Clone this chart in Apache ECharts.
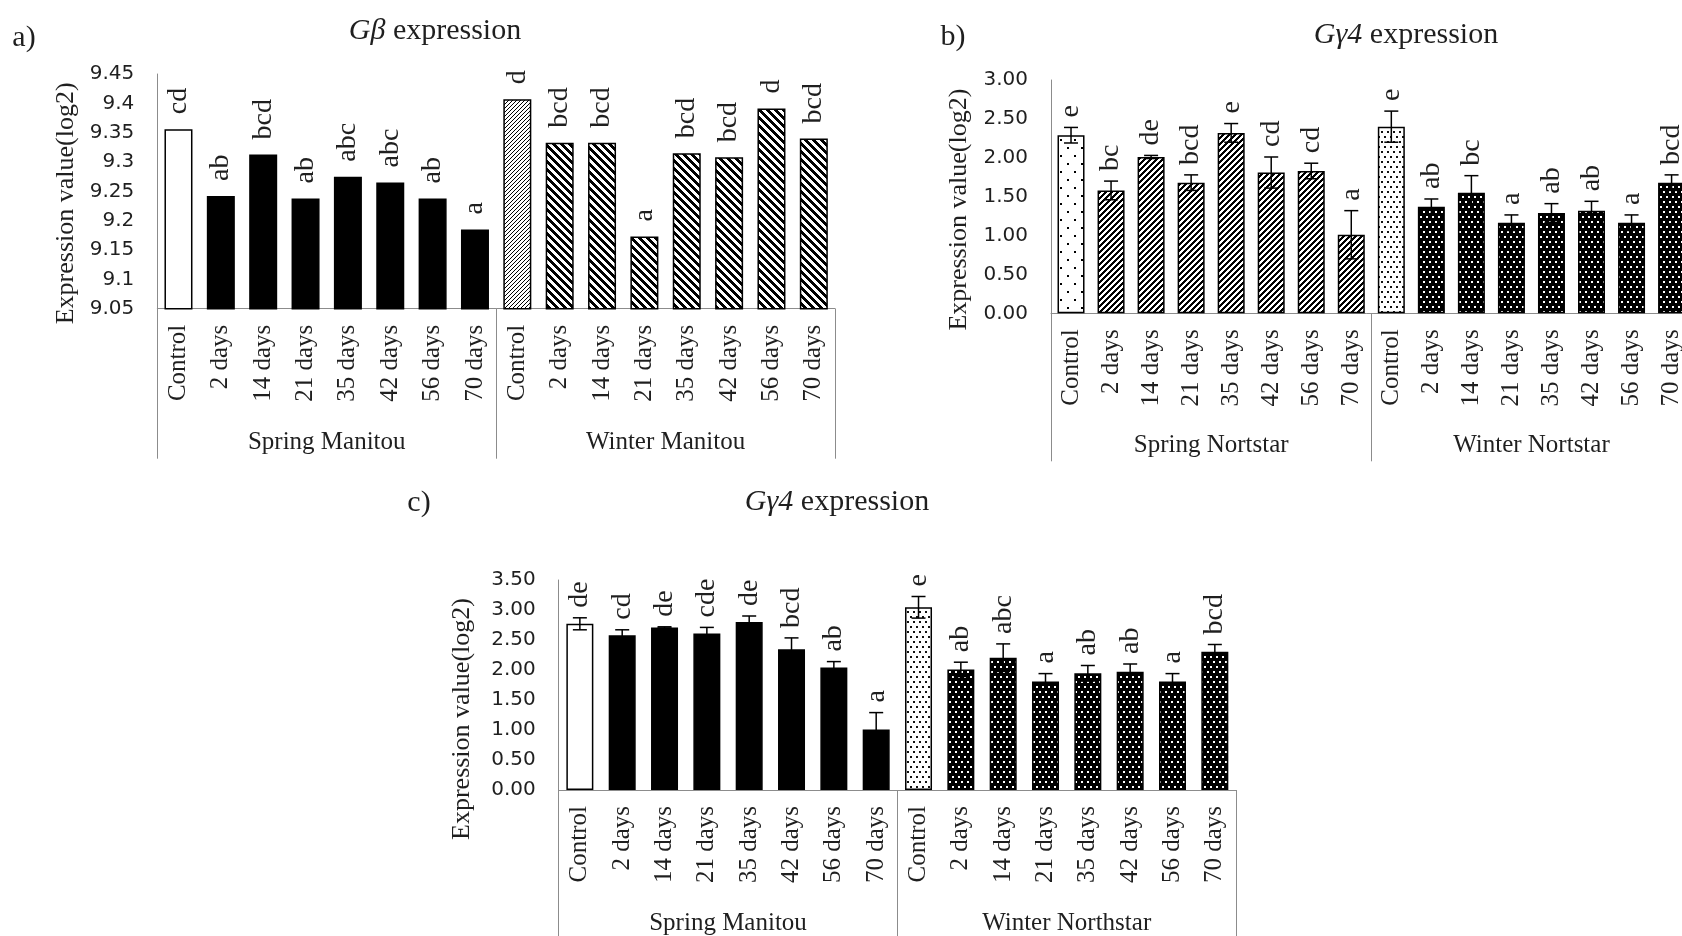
<!DOCTYPE html>
<html>
<head>
<meta charset="utf-8">
<script src="https://cdn.jsdelivr.net/npm/echarts@6/dist/echarts.min.js"></script>
<style>
html,body{margin:0;padding:0;background:#fff;}
#chart{width:1682px;height:936px;}
</style>
</head>
<body>
<div id="chart"></div>
<script>
// Sampling times shared by every panel
const days = ['Control', '2 days', '14 days', '21 days', '35 days', '42 days', '56 days', '70 days'];

// a) Gβ expression (Manitou)
const aGroups = ['Spring Manitou', 'Winter Manitou'];
const aSpring = [9.356, 9.242, 9.313, 9.238, 9.275, 9.265, 9.238, 9.185];
const aWinter = [9.407, 9.333, 9.333, 9.173, 9.315, 9.308, 9.391, 9.340];
const aSpringErr = [0, 0, 0, 0, 0, 0, 0, 0];
const aWinterErr = [0, 0, 0, 0, 0, 0, 0, 0];
const aSpringSig = ['cd', 'ab', 'bcd', 'ab', 'abc', 'abc', 'ab', 'a'];
const aWinterSig = ['d', 'bcd', 'bcd', 'a', 'bcd', 'bcd', 'd', 'bcd'];
const aTicks = {min: 9.05, max: 9.45, interval: 0.05};

// b) Gγ4 expression (Nortstar)
const bGroups = ['Spring Nortstar', 'Winter Nortstar'];
const bSpring = [2.29, 1.58, 2.01, 1.68, 2.32, 1.81, 1.83, 1.01];
const bWinter = [2.40, 1.37, 1.55, 1.165, 1.29, 1.32, 1.165, 1.68];
const bSpringErr = [0.10, 0.12, 0.02, 0.10, 0.12, 0.20, 0.10, 0.31];
const bWinterErr = [0.20, 0.10, 0.22, 0.10, 0.12, 0.12, 0.10, 0.10];
const bSpringSig = ['e', 'bc', 'de', 'bcd', 'e', 'cd', 'cd', 'a'];
const bWinterSig = ['e', 'ab', 'bc', 'a', 'ab', 'ab', 'a', 'bcd'];
const bTicks = {min: 0, max: 3, interval: 0.5};

// c) Gγ4 expression (Manitou / Northstar)
const cGroups = ['Spring Manitou', 'Winter Northstar'];
const cSpring = [2.77, 2.58, 2.71, 2.61, 2.80, 2.345, 2.04, 1.01];
const cWinter = [3.045, 2.01, 2.205, 1.81, 1.945, 1.97, 1.81, 2.305];
const cSpringErr = [0.10, 0.09, 0.01, 0.10, 0.10, 0.19, 0.10, 0.28];
const cWinterErr = [0.18, 0.12, 0.23, 0.13, 0.13, 0.13, 0.13, 0.12];
const cSpringSig = ['de', 'cd', 'de', 'cde', 'de', 'bcd', 'ab', 'a'];
const cWinterSig = ['e', 'ab', 'abc', 'a', 'ab', 'ab', 'a', 'bcd'];
const cTicks = {min: 0, max: 3.5, interval: 0.5};

// ---- fill patterns (pixel tiles) ----
function tile(w, h, bg, fg, on) {
  const c = document.createElement('canvas');
  c.width = w; c.height = h;
  const ctx = c.getContext('2d');
  ctx.fillStyle = bg; ctx.fillRect(0, 0, w, h);
  ctx.fillStyle = fg;
  for (let y = 0; y < h; y++) for (let x = 0; x < w; x++) if (on(x, y)) ctx.fillRect(x, y, 1, 1);
  return {image: c, repeat: 'repeat'};
}
const WHITE = '#ffffff', BLACK = '#000000';
const fineUp = tile(4, 4, WHITE, BLACK, (x, y) => (x + y) % 4 === 0);
const wideDown = tile(8, 8, WHITE, BLACK, (x, y) => ((x - y) % 8 + 8) % 8 < 4);
const darkUp = tile(6, 6, WHITE, BLACK, (x, y) => (x + y) % 6 < 3);
const sparseDots = tile(14, 16, WHITE, BLACK, (x, y) =>
  (x >= 3 && x < 5 && y >= 3 && y < 5) || (x >= 10 && x < 12 && y >= 11 && y < 13));
const dotOn = (x, y) => (x >= 1 && x < 3 && y >= 1 && y < 3) || (x >= 4 && x < 6 && y >= 6 && y < 8);
const lightDots = tile(6, 10, WHITE, '#111', dotOn);
const darkDots = tile(6, 10, BLACK, WHITE, dotOn);

const AXIS_GRAY = '#8c8c8c';
const SERIF = '"Liberation Serif", "Times New Roman", serif';
const SANS = '"DejaVu Sans", Verdana, sans-serif';
const TEXT = '#1f1f1f';

const panels = [
  {grid: {left: 157.3, top: 74, width: 677.7, height: 234.7}, groups: aGroups, spring: aSpring, winter: aWinter,
   springErr: aSpringErr, winterErr: aWinterErr, springSig: aSpringSig, winterSig: aWinterSig, ticks: aTicks,
   fills: [WHITE, BLACK, fineUp, wideDown], barWidth: 28, gap: 15, fmt: null, nameGap: 78, nameShift: 12,
   groupMargin: 121, groupTick: 150},
  {grid: {left: 1051, top: 80, width: 640.6, height: 233.3}, groups: bGroups, spring: bSpring, winter: bWinter,
   springErr: bSpringErr, winterErr: bWinterErr, springSig: bSpringSig, winterSig: bWinterSig, ticks: bTicks,
   fills: [sparseDots, darkUp, lightDots, darkDots], barWidth: 27, gap: 10, fmt: v => v.toFixed(2), nameGap: 79, nameShift: 13,
   groupMargin: 120, groupTick: 148},
  {grid: {left: 558.7, top: 580, width: 677.3, height: 210}, groups: cGroups, spring: cSpring, winter: cWinter,
   springErr: cSpringErr, winterErr: cWinterErr, springSig: cSpringSig, winterSig: cWinterSig, ticks: cTicks,
   fills: [WHITE, BLACK, lightDots, darkDots], barWidth: 27, gap: 10, fmt: v => v.toFixed(2), nameGap: 84, nameShift: 34,
   groupMargin: 121, groupTick: 160}
];

const grids = [], xAxes = [], yAxes = [], series = [];

panels.forEach((p, gi) => {
  grids.push(Object.assign({containLabel: false, outerBoundsMode: 'none'}, p.grid));
  const cats = days.concat(days);
  xAxes.push({
    type: 'category', gridIndex: gi, data: cats, position: 'bottom',
    axisLine: {show: true, lineStyle: {color: AXIS_GRAY, width: 1}},
    axisTick: {show: false},
    axisLabel: {interval: 0, rotate: 90, margin: 16, color: TEXT, fontFamily: SERIF, fontSize: 25}
  });
  xAxes.push({
    type: 'category', gridIndex: gi, data: p.groups, position: 'bottom',
    axisLine: {show: false},
    axisTick: {show: true, interval: 0, length: p.groupTick, lineStyle: {color: AXIS_GRAY, width: 1}},
    axisLabel: {interval: 0, margin: p.groupMargin, color: TEXT, fontFamily: SERIF, fontSize: 25}
  });
  yAxes.push({
    type: 'value', gridIndex: gi, min: p.ticks.min, max: p.ticks.max, interval: p.ticks.interval,
    name: 'Expression value(log2)', nameLocation: 'middle', nameRotate: 90, nameGap: p.nameGap,
    nameTextStyle: {color: TEXT, fontFamily: SERIF, fontSize: 26, padding: [0, 2 * p.nameShift, 0, 0]},
    axisLine: {show: true, lineStyle: {color: AXIS_GRAY, width: 1}},
    axisTick: {show: false},
    splitLine: {show: false},
    axisLabel: {margin: 23, color: TEXT, fontFamily: SANS, fontSize: 20, formatter: p.fmt || undefined}
  });

  const values = p.spring.concat(p.winter);
  const errs = p.springErr.concat(p.winterErr);
  const sig = p.springSig.concat(p.winterSig);

  series.push({
    type: 'bar', xAxisIndex: gi * 2, yAxisIndex: gi, barWidth: p.barWidth, silent: true,
    itemStyle: {borderColor: BLACK, borderWidth: 1.5},
    data: values.map((v, i) => ({
      value: v,
      itemStyle: {color: i === 0 ? p.fills[0] : i < 8 ? p.fills[1] : i === 8 ? p.fills[2] : p.fills[3]}
    }))
  });

  // error bars and significance letters
  series.push({
    type: 'custom', xAxisIndex: gi * 2, yAxisIndex: gi, silent: true, clip: false, z: 5,
    data: values.map((v, i) => [i, v, errs[i]]),
    renderItem: (params, api) => {
      const i = api.value(0), v = api.value(1), e = api.value(2);
      const top = api.coord([i, v + e]);
      const bot = api.coord([i, v - e]);
      const children = [];
      if (e > 0) {
        const cap = 7;
        const ls = {stroke: BLACK, lineWidth: 1.5};
        children.push({type: 'line', shape: {x1: top[0], y1: top[1], x2: bot[0], y2: bot[1]}, style: ls});
        children.push({type: 'line', shape: {x1: top[0] - cap, y1: top[1], x2: top[0] + cap, y2: top[1]}, style: ls});
        children.push({type: 'line', shape: {x1: bot[0] - cap, y1: bot[1], x2: bot[0] + cap, y2: bot[1]}, style: ls});
      }
      children.push({
        type: 'text', x: top[0], y: top[1] - p.gap, rotation: Math.PI / 2,
        style: {text: sig[params.dataIndex], x: 0, y: 0, align: 'left', verticalAlign: 'middle',
                fill: TEXT, fontFamily: SERIF, fontSize: 28}
      });
      return {type: 'group', children};
    }
  });
});

const titleFont = {color: TEXT, fontFamily: SERIF, fontSize: 30, fontWeight: 'normal',
  rich: {i: {fontStyle: 'italic', fontFamily: SERIF, fontSize: 30, color: TEXT}}};
const titles = [
  {text: 'a)', left: 24, top: 38},
  {text: '{i|Gβ} expression', left: 435, top: 31},
  {text: 'b)', left: 953, top: 37},
  {text: '{i|Gγ4} expression', left: 1406, top: 35},
  {text: 'c)', left: 419, top: 503},
  {text: '{i|Gγ4} expression', left: 837, top: 502}
].map(t => Object.assign({textAlign: 'center', textVerticalAlign: 'middle', padding: 0, textStyle: titleFont}, t));

const chart = echarts.init(document.getElementById('chart'), null, {renderer: 'canvas'});
chart.setOption({
  animation: false,
  backgroundColor: '#ffffff',
  title: titles,
  grid: grids,
  xAxis: xAxes,
  yAxis: yAxes,
  series: series
});
</script>
</body>
</html>
